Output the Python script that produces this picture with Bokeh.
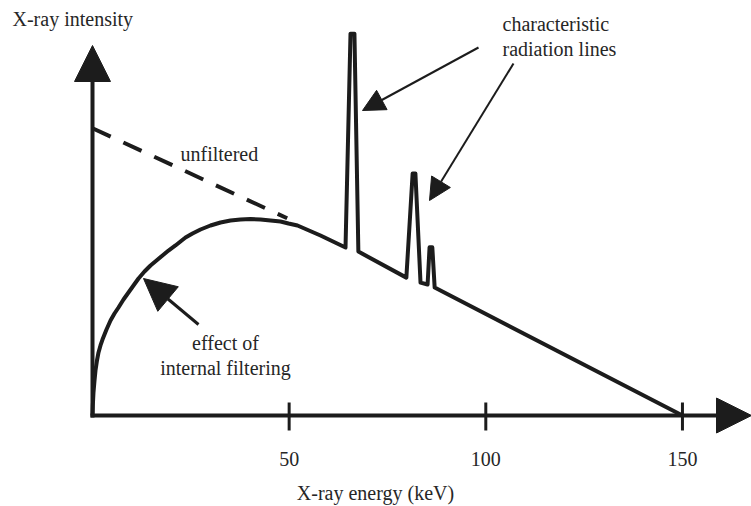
from bokeh.plotting import figure
from bokeh.models import Range1d, Arrow, NormalHead, ColumnDataSource
from bokeh.core.properties import value
from bokeh.embed import file_html
from bokeh.resources import INLINE

# ---- data (arbitrary intensity units) ----
energy_kev = [0, 0.08, 0.25, 0.51, 0.76, 1.14, 1.53, 2.03, 2.54, 3.56, 4.58, 5.59,
              6.61, 7.88, 9.15, 10.42, 11.70, 13.22, 14.75, 16.27, 17.80, 19.32,
              21.10, 22.37, 23.65, 25.43, 27.46, 30.00, 32.55, 35.09, 37.63, 40.17,
              42.72, 45.26, 47.80, 49.83, 52.12, 57.97, 64.33, 65.6, 66.6, 67.6,
              79.8, 81.4, 82.1, 83.4, 85.2, 85.7, 86.4, 87.0, 150]
intensity = [0, 2.61, 6.01, 9.14, 11.75, 14.36, 16.45, 18.28, 19.84, 22.45, 24.80, 26.63,
             28.20, 30.29, 32.11, 33.94, 35.77, 37.60, 39.16, 40.47, 41.78, 43.08,
             44.39, 45.43, 46.48, 47.52, 48.56, 49.61, 50.39, 50.91, 51.17, 51.31,
             51.17, 50.91, 50.65, 50.13, 49.61, 47.00, 43.86, 99.7, 99.7, 42.8,
             36.0, 63.2, 63.2, 34.7, 34.2, 43.9, 43.9, 33.4, 0]
unfiltered_kev = [0, 49.5]
unfiltered_intensity = [75.0, 51.5]
tick_values = [50, 100, 150]
tick_labels = ["50", "100", "150"]

# ---- layout geometry ----
W, H = 751, 506
ORIGIN_PX, ORIGIN_PY = 92, 415
PX_PER_KEV = 3.933
PX_PER_UNIT = 3.83

def kx(px):
    return (px - ORIGIN_PX) / PX_PER_KEV

def iy(py):
    return (ORIGIN_PY - py) / PX_PER_UNIT

INK = "#1c1c1c"
TEXT = "#262626"
FONT = value("Liberation Serif")

p = figure(width=W, height=H, output_backend="svg", toolbar_location=None,
           x_range=Range1d(kx(0), kx(W)), y_range=Range1d(iy(H), iy(0)),
           x_axis_location=None, y_axis_location=None, min_border=0)
p.xgrid.visible = False
p.ygrid.visible = False
p.outline_line_color = None
p.background_fill_color = "white"
p.border_fill_color = "white"

# axes as arrows
p.add_layout(Arrow(x_start=0, y_start=iy(ORIGIN_PY + 2), x_end=0, y_end=iy(45),
                   line_width=4, line_color=INK,
                   end=NormalHead(size=36, fill_color=INK, line_color=INK, line_width=1)))
p.add_layout(Arrow(x_start=kx(ORIGIN_PX - 2), y_start=0, x_end=kx(W), y_end=0,
                   line_width=4, line_color=INK,
                   end=NormalHead(size=35, fill_color=INK, line_color=INK, line_width=1)))

# ticks crossing the axis
p.segment(x0=tick_values, y0=[iy(ORIGIN_PY - 13)] * len(tick_values),
          x1=tick_values, y1=[iy(ORIGIN_PY + 15)] * len(tick_values),
          line_width=3, line_color=INK)
p.text(x=tick_values, y=[iy(458)] * len(tick_values), text=tick_labels,
       text_font=FONT, text_font_size="20px", text_color=TEXT,
       text_align="center", text_baseline="middle")

# spectrum
p.line(unfiltered_kev, unfiltered_intensity, line_width=4, line_color=INK,
       line_dash="20 14")
p.line(energy_kev, intensity, line_width=4, line_color=INK, line_join="round")

# pointer arrows
p.add_layout(Arrow(x_start=kx(478), y_start=iy(47), x_end=kx(362), y_end=iy(110),
                   line_width=2, line_color=INK,
                   end=NormalHead(size=22, fill_color=INK, line_color=INK, line_width=1)))
p.add_layout(Arrow(x_start=kx(513), y_start=iy(63), x_end=kx(429), y_end=iy(200),
                   line_width=2, line_color=INK,
                   end=NormalHead(size=22, fill_color=INK, line_color=INK, line_width=1)))
p.add_layout(Arrow(x_start=kx(198), y_start=iy(324), x_end=kx(143), y_end=iy(278),
                   line_width=3, line_color=INK,
                   end=NormalHead(size=32, fill_color=INK, line_color=INK, line_width=1)))

# texts
left_src = ColumnDataSource(dict(
    x=[kx(12), kx(180), kx(502), kx(502)],
    y=[iy(18), iy(153), iy(23), iy(48)],
    t=["X-ray intensity", "unfiltered", "characteristic", "radiation lines"]))
p.text(x="x", y="y", text="t", source=left_src, text_font=FONT,
       text_font_size="20px", text_color=TEXT, text_align="left",
       text_baseline="middle")
center_src = ColumnDataSource(dict(
    x=[kx(225), kx(225), kx(375)],
    y=[iy(342), iy(367), iy(492)],
    t=["effect of", "internal filtering", "X-ray energy (keV)"]))
p.text(x="x", y="y", text="t", source=center_src, text_font=FONT,
       text_font_size="20px", text_color=TEXT, text_align="center",
       text_baseline="middle")

open("out.html", "w").write(file_html(p, INLINE))
